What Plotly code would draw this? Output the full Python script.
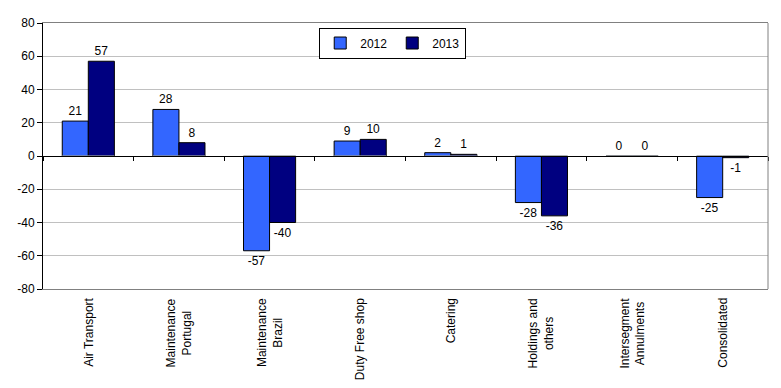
import plotly.graph_objects as go

categories = ["Air Transport", "Maintenance<br>Portugal", "Maintenance<br>Brazil", "Duty Free shop",
              "Catering", "Holdings and<br>others", "Intersegment<br>Annulments", "Consolidated"]
values_2012 = [21, 28, -57, 9, 2, -28, 0, -25]
values_2013 = [57, 8, -40, 10, 1, -36, 0, -1]
y_ticks = [80, 60, 40, 20, 0, -20, -40, -60, -80]
y_tick_text = ["80", "60", "40", "20", "0", "-20", "-40", "-60", "-80"]

FONT = "Liberation Sans, Arial, sans-serif"

fig = go.Figure()
fig.add_trace(go.Bar(x=categories, y=values_2012, name="2012",
                     marker=dict(color="#3366FF", line=dict(color="black", width=1)),
                     text=[str(v) for v in values_2012], textposition="outside",
                     textfont=dict(size=12, color="black", family=FONT), cliponaxis=False))
fig.add_trace(go.Bar(x=categories, y=values_2013, name="2013",
                     marker=dict(color="#000080", line=dict(color="black", width=1)),
                     text=[str(v) for v in values_2013], textposition="outside",
                     textfont=dict(size=12, color="black", family=FONT), cliponaxis=False))
# invisible helper trace on a second x-axis to draw the category tick marks at y=0
fig.add_trace(go.Bar(x=categories, y=[0]*len(categories), xaxis="x2", showlegend=False,
                     hoverinfo="skip", marker=dict(color="rgba(0,0,0,0)")))

# rotated category labels with centred lines
label_annotations = [dict(x=c, y=0, xref="x", yref="paper", text=c, textangle=-90,
                          showarrow=False, xanchor="center", yanchor="top", align="center",
                          yshift=-7, font=dict(size=12, family=FONT, color="black"))
                     for c in categories]

# page body has an 8px default margin, so the figure is offset by (8, 8)
fig.update_layout(
    width=773, height=380,
    margin=dict(l=35, r=13, t=15, b=99, autoexpand=False),
    paper_bgcolor="white", plot_bgcolor="white",
    font=dict(family=FONT, size=12, color="black"),
    barmode="group", bargap=0.425, bargroupgap=0,
    showlegend=True,
    legend=dict(orientation="h", x=0.381, y=0.983, xanchor="left", yanchor="top",
                bordercolor="black", borderwidth=1, bgcolor="white",
                font=dict(size=12, family=FONT), itemwidth=30, tracegroupgap=0),
    xaxis=dict(showticklabels=False, showline=True, linecolor="#808080", linewidth=1, mirror=True,
               ticks="", showgrid=False, zeroline=False,
               range=[-0.5, 7.5], automargin=False),
    xaxis2=dict(overlaying="x", matches="x", anchor="free", position=0.5, side="bottom",
                showticklabels=False, ticks="outside", ticklen=4, tickcolor="black",
                tickson="boundaries", showline=True, linecolor="black", linewidth=1,
                showgrid=False, zeroline=False, automargin=False),
    yaxis=dict(range=[-80, 80], tickvals=y_ticks, ticktext=y_tick_text,
               showline=True, linecolor="black", linewidth=1, ticks="outside", ticklen=5,
               tickcolor="black", showgrid=True, gridcolor="#C0C0C0", gridwidth=1,
               zeroline=True, zerolinecolor="black", zerolinewidth=1,
               tickfont=dict(size=12), automargin=False),
    shapes=[dict(type="line", xref="paper", yref="paper", x0=1, x1=1, y0=0, y1=1,
                 line=dict(color="#808080", width=1))],
    annotations=label_annotations,
)

fig.write_html("out.html")
